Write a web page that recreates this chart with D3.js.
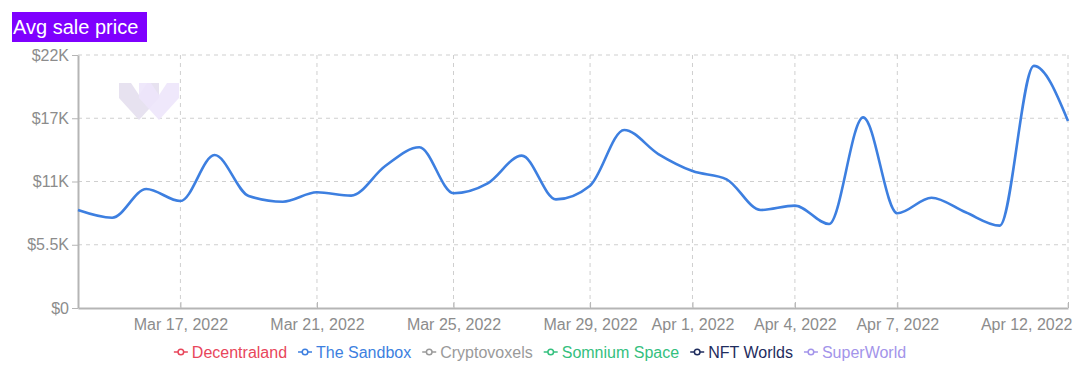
<!DOCTYPE html>
<html>
<head>
<meta charset="utf-8">
<script src="https://cdn.jsdelivr.net/npm/d3@7"></script>
<style>
  body { margin: 0; background: #fff; font-family: "Liberation Sans", Arial, Helvetica, sans-serif; }
  .grid line { stroke: #cfcfcf; stroke-dasharray: 4 4; }
  .axis text { fill: #8c8c8c; font-size: 16px; font-family: "Liberation Sans", Arial, sans-serif; }
  .axis path, .axis line { stroke: #b5b5b5; stroke-width: 2; }
</style>
</head>
<body>
<div id="chart"></div>
<script>
// daily avg sale price, The Sandbox, Mar 14 - Apr 12 2022
const startDate = '2022-03-14';
const prices = [
    8520, 7850, 10350, 9300, 13300, 9740, 9240, 10060, 9770, 12350,
    13980, 9980, 10840, 13250, 9450, 10640, 15480, 13390, 11910, 11190,
    8520, 8900, 7300, 16580, 8240, 9590, 8320, 7160, 21050, 16260
];
const yTicks = [0, 5500, 11000, 16500, 22000];
const yTickLabels = ['$0', '$5.5K', '$11K', '$17K', '$22K'];
const xTickDates = ['2022-03-17', '2022-03-21', '2022-03-25', '2022-03-29', '2022-04-01', '2022-04-04', '2022-04-07', '2022-04-12'];
const legendNames = ['Decentraland', 'The Sandbox', 'Cryptovoxels', 'Somnium Space', 'NFT Worlds', 'SuperWorld'];
const legendColors = ['#e8465b', '#3d7fe0', '#9a9a9a', '#34c07e', '#1f2d5e', '#a394ea'];

const width = 1087, height = 378;
const margin = { top: 55, right: 19, bottom: 70, left: 78 };
const parse = d3.timeParse('%Y-%m-%d');
const fmt = d3.timeFormat('%b %-d, %Y');

let data = prices.map((v, i) => ({ date: d3.timeDay.offset(parse(startDate), i), value: v }));

let svg = d3.select('#chart').append('svg')
    .attr('width', width)
    .attr('height', height);

let x = d3.scaleTime()
    .domain(d3.extent(data, d => d.date))
    .range([margin.left, width - margin.right]);
let y = d3.scaleLinear()
    .domain([0, 22000])
    .range([height - margin.bottom, margin.top]);

// title
let title = svg.append('g');
title.append('rect')
    .attr('x', 12).attr('y', 12)
    .attr('width', 135).attr('height', 30)
    .attr('fill', '#7f00ff');
title.append('text')
    .attr('x', 13).attr('y', 34)
    .attr('fill', '#fff')
    .style('font-size', '20px')
    .text('Avg sale price');

// grid
let grid = svg.append('g').classed('grid', true);
grid.selectAll('.h').data(yTicks.slice(1)).enter().append('line')
    .attr('x1', margin.left).attr('x2', width - margin.right)
    .attr('y1', d => y(d)).attr('y2', d => y(d));
grid.selectAll('.v').data(xTickDates.map(parse)).enter().append('line')
    .attr('y1', margin.top).attr('y2', height - margin.bottom)
    .attr('x1', d => x(d)).attr('x2', d => x(d));

// watermark
let wm = svg.append('g');
wm.append('polygon')
    .attr('points', '119,83 131,83 139,95 147,83 159,83 159,98 139,120 119,98')
    .attr('fill', '#e7e2f0');
wm.append('polygon')
    .attr('points', '139,83 151,83 159,95 167,83 179,83 179,98 159,120 139,98')
    .attr('fill', '#ede6fb').attr('opacity', 0.9);

// axes
let yAxis = svg.append('g').classed('axis', true)
    .attr('transform', `translate(${margin.left},0)`)
    .call(d3.axisLeft(y).tickValues(yTicks).tickFormat((d, i) => yTickLabels[i]).tickSize(6).tickSizeOuter(0).tickPadding(3));
let xAxis = svg.append('g').classed('axis', true)
    .attr('transform', `translate(0,${height - margin.bottom})`)
    .call(d3.axisBottom(x).tickValues(xTickDates.map(parse)).tickFormat(fmt).tickSize(6).tickSizeOuter(0).tickPadding(5));
xAxis.selectAll('.tick line').attr('transform', 'translate(0,-6)').style('stroke-width', 1);
yAxis.selectAll('.tick line').style('stroke-width', 1);
xAxis.selectAll('.tick:last-of-type text').attr('text-anchor', 'end').attr('dx', 4);

// line
let line = d3.line()
    .x(d => x(d.date))
    .y(d => y(d.value))
    .curve(d3.curveMonotoneX);
svg.append('path')
    .datum(data)
    .attr('d', line)
    .attr('fill', 'none')
    .attr('stroke', '#3d7fe0')
    .attr('stroke-width', 2.6);

// legend
let legend = svg.append('g').attr('transform', 'translate(0,352)');
let items = legend.selectAll('g').data(legendNames).enter().append('g');
items.append('line')
    .attr('x1', 0).attr('x2', 14)
    .attr('stroke', (d, i) => legendColors[i]).attr('stroke-width', 1.5);
items.append('circle')
    .attr('cx', 7).attr('r', 2.8)
    .attr('fill', '#fff')
    .attr('stroke', (d, i) => legendColors[i]).attr('stroke-width', 1.5);
items.append('text')
    .attr('x', 18).attr('dy', '0.35em')
    .attr('fill', (d, i) => legendColors[i])
    .style('font-size', '16px')
    .text(d => d);
let offs = [], total = 0;
items.each(function () {
    let w = this.getBBox().width;
    offs.push(total);
    total += w + 11;
});
total -= 11;
let startX = 540 - total / 2;
items.attr('transform', (d, i) => `translate(${startX + offs[i]},0)`);
</script>
</body>
</html>
